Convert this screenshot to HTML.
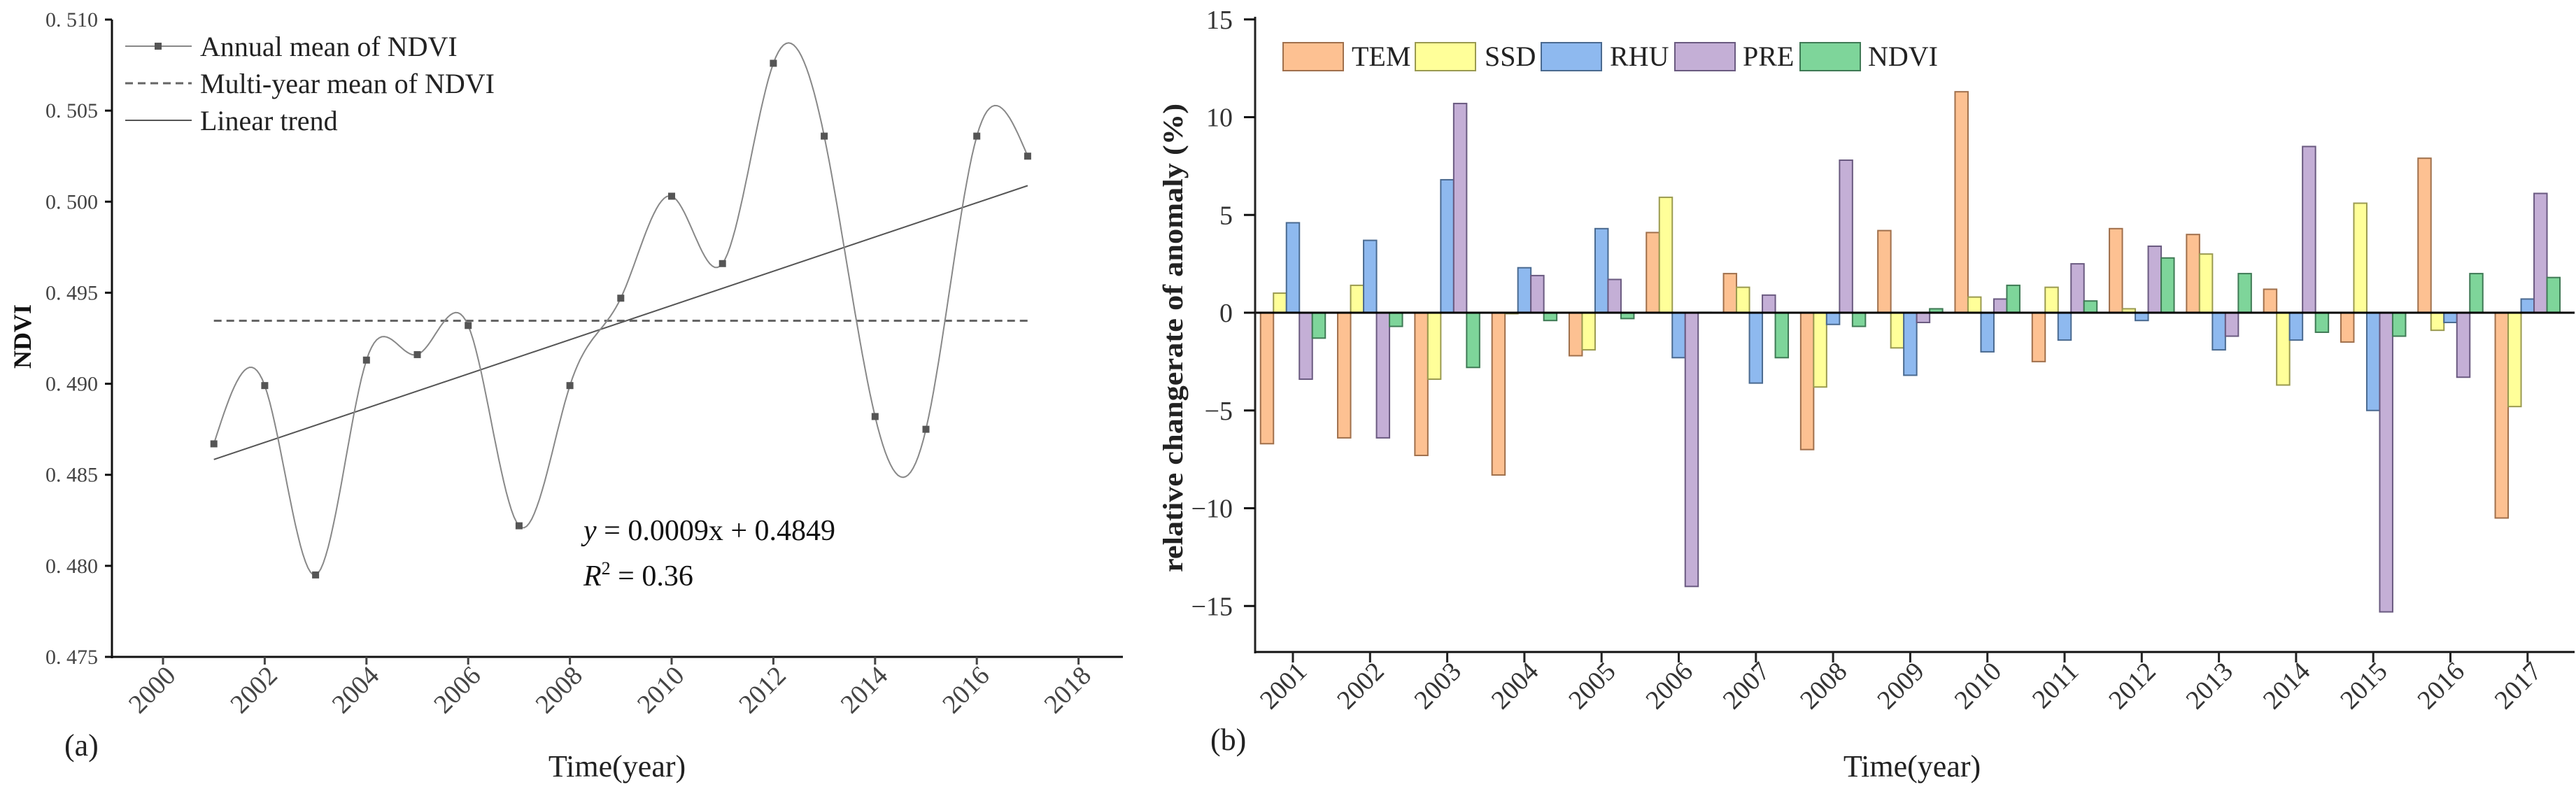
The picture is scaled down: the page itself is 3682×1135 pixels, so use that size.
<!DOCTYPE html>
<html><head><meta charset="utf-8"><style>
html,body{margin:0;padding:0;background:#fff;}
svg{display:block;font-family:"Liberation Serif",serif;}
</style></head><body>
<svg id="fig" width="3682" height="1135" viewBox="0 0 3682 1135" xmlns="http://www.w3.org/2000/svg">
<g id="chartA"></g>
<g id="chartB"></g>
</svg>
<script>
// ---- Chart (a) data ----
const yearsA = [2001,2002,2003,2004,2005,2006,2007,2008,2009,2010,2011,2012,2013,2014,2015,2016,2017];
const ndviValues = [0.4867,0.4899,0.4795,0.4913,0.4916,0.4932,0.4822,0.4899,0.4947,0.5003,0.4966,0.5076,0.5036,0.4882,0.4875,0.5036,0.5025];
const ndviMean = [0.49346];
const trendCoef = [0.00094, 0.4849];
const xTicksA = [2000,2002,2004,2006,2008,2010,2012,2014,2016,2018];
const yTicksA = [0.475,0.480,0.485,0.490,0.495,0.500,0.505,0.510];
const yTickLabelsA = ["0. 475","0. 480","0. 485","0. 490","0. 495","0. 500","0. 505","0. 510"];
// ---- Chart (b) data ----
const yearsB = [2001,2002,2003,2004,2005,2006,2007,2008,2009,2010,2011,2012,2013,2014,2015,2016,2017];
const seriesNames = ["TEM","SSD","RHU","PRE","NDVI"];
const temValues = [-6.7,-6.4,-7.3,-8.3,-2.2,4.1,2.0,-7.0,4.2,11.3,-2.5,4.3,4.0,1.2,-1.5,7.9,-10.5];
const ssdValues = [1.0,1.4,-3.4,-0.05,-1.9,5.9,1.3,-3.8,-1.8,0.8,1.3,0.2,3.0,-3.7,5.6,-0.9,-4.8];
const rhuValues = [4.6,3.7,6.8,2.3,4.3,-2.3,-3.6,-0.6,-3.2,-2.0,-1.4,-0.4,-1.9,-1.4,-5.0,-0.5,0.7];
const preValues = [-3.4,-6.4,10.7,1.9,1.7,-14.0,0.9,7.8,-0.5,0.7,2.5,3.4,-1.2,8.5,-15.3,-3.3,6.1];
const ndviAnom = [-1.3,-0.7,-2.8,-0.4,-0.3,0.02,-2.3,-0.7,0.2,1.4,0.6,2.8,2.0,-1.0,-1.2,2.0,1.8];
const yTicksB = [-15,-10,-5,0,5,10,15];
const yTickLabelsB = ["\u221215","\u221210","\u22125","0","5","10","15"];

const NS="http://www.w3.org/2000/svg";
function mk(parent,tag,attrs,text){const e=document.createElementNS(NS,tag);for(const k in attrs)e.setAttribute(k,attrs[k]);if(text!==undefined)e.textContent=text;parent.appendChild(e);return e;}

// ===== Chart A =====
const A=document.getElementById('chartA');
const ax=x=>233+(x-2000)*72.7;
const ay=v=>939-(v-0.475)/0.035*911;
// axes
let e;
e=mk(A,'line',{x1:160,y1:28,x2:160,y2:941,stroke:'#111','stroke-width':3});


e=mk(A,'line',{x1:159,y1:939,x2:1605,y2:939,stroke:'#111','stroke-width':3});


yTicksA.forEach((t,i)=>{
  mk(A,'line',{x1:150,y1:ay(t),x2:160,y2:ay(t),stroke:'#111','stroke-width':3});
  e=mk(A,'text',{x:140,y:ay(t)+10,'text-anchor':'end','font-size':30,fill:'#444'},yTickLabelsA[i]);
  
  
});
xTicksA.forEach(t=>{
  mk(A,'line',{x1:ax(t),y1:939,x2:ax(t),y2:950,stroke:'#444','stroke-width':3});
  e=mk(A,'text',{x:0,y:0,'text-anchor':'end','font-size':38,fill:'#444',transform:`translate(${ax(t)+20},${968}) rotate(-45)`},String(t));
  
  
});
// mean dashed line
e=mk(A,'line',{x1:ax(2001),y1:ay(ndviMean[0]),x2:ax(2017),y2:ay(ndviMean[0]),stroke:'#666','stroke-width':3,'stroke-dasharray':'11 7'});


// trend
const tr=x=>trendCoef[1]+trendCoef[0]*(x-2000);
e=mk(A,'line',{x1:ax(2001),y1:ay(tr(2001)),x2:ax(2017),y2:ay(tr(2017)),stroke:'#555','stroke-width':2});


// natural cubic spline
(function(){
  const n=yearsA.length, xs=yearsA, ys=ndviValues;
  const h=[],al=[],l=[1],mu=[0],z=[0];
  for(let i=0;i<n-1;i++)h.push(xs[i+1]-xs[i]);
  for(let i=1;i<n-1;i++)al[i]=3/h[i]*(ys[i+1]-ys[i])-3/h[i-1]*(ys[i]-ys[i-1]);
  for(let i=1;i<n-1;i++){l[i]=2*(xs[i+1]-xs[i-1])-h[i-1]*mu[i-1];mu[i]=h[i]/l[i];z[i]=(al[i]-h[i-1]*z[i-1])/l[i];}
  const c=new Array(n).fill(0),b=[],d=[];
  for(let j=n-2;j>=0;j--){c[j]=(j<n-2||true)?(z[j]||0)-mu[j]*c[j+1]:0;b[j]=(ys[j+1]-ys[j])/h[j]-h[j]*(c[j+1]+2*c[j])/3;d[j]=(c[j+1]-c[j])/(3*h[j]);}
  c[0]=0;
  // recompute with c[0]=0 boundary properly
  for(let j=n-2;j>=0;j--){b[j]=(ys[j+1]-ys[j])/h[j]-h[j]*(c[j+1]+2*c[j])/3;d[j]=(c[j+1]-c[j])/(3*h[j]);}
  let dstr='';
  for(let j=0;j<n-1;j++){for(let k=0;k<=20;k++){const t=k/20*h[j];const v=ys[j]+b[j]*t+c[j]*t*t+d[j]*t*t*t;const X=ax(xs[j]+t),Y=ay(v);dstr+=(dstr?'L':'M')+X.toFixed(1)+','+Y.toFixed(1);}}
  e=mk(A,'path',{d:dstr,fill:'none',stroke:'#888','stroke-width':2});
  
  
})();
yearsA.forEach((yr,i)=>{
  e=mk(A,'rect',{x:ax(yr)-5,y:ay(ndviValues[i])-5,width:10,height:10,fill:'#555'});
  
  
});
// legend A
const lgA=mk(A,'g',{});


mk(lgA,'line',{x1:179,y1:66,x2:274,y2:66,stroke:'#888','stroke-width':2});
mk(lgA,'rect',{x:221,y:61,width:10,height:10,fill:'#555'});
mk(lgA,'text',{x:286,y:80,'font-size':40,fill:'#222'},'Annual mean of NDVI');
mk(lgA,'line',{x1:179,y1:119,x2:274,y2:119,stroke:'#666','stroke-width':3,'stroke-dasharray':'11 7'});
mk(lgA,'text',{x:286,y:133,'font-size':40,fill:'#222'},'Multi-year mean of NDVI');
mk(lgA,'line',{x1:179,y1:172,x2:274,y2:172,stroke:'#555','stroke-width':2});
mk(lgA,'text',{x:286,y:186,'font-size':40,fill:'#222'},'Linear trend');
// equation
e=mk(A,'text',{x:834,y:772,'font-size':42,fill:'#111'});


e.innerHTML='<tspan font-style="italic">y</tspan> = 0.0009x + 0.4849';
e=mk(A,'text',{x:834,y:837,'font-size':42,fill:'#111'});


e.innerHTML='<tspan font-style="italic">R</tspan><tspan font-size="26" dy="-16">2</tspan><tspan dy="16"> = 0.36</tspan>';
e=mk(A,'text',{x:0,y:0,'font-size':36,'font-weight':'bold','text-anchor':'middle',fill:'#111',transform:'translate(44,481) rotate(-90)'},'NDVI');


e=mk(A,'text',{x:882,y:1110,'font-size':44,'text-anchor':'middle',fill:'#222'},'Time(year)');


e=mk(A,'text',{x:92,y:1080,'font-size':44,fill:'#222'},'(a)');



// ===== Chart B =====
const B=document.getElementById('chartB');
const bx=yr=>1848+(yr-2001)*110.3;
const by=v=>447-v*27.95;
const fills=['#FDC192','#FFFF99','#8EB9EF','#C4AFD6','#7ED59A'];
const strokes=['#a0704c','#9a9a50','#4a6a90','#6a5a80','#3f7a55'];
const allSeries=[temValues,ssdValues,rhuValues,preValues,ndviAnom];
const bw=18.5;
allSeries.forEach((vals,s)=>{
  vals.forEach((v,i)=>{
    const x=bx(yearsB[i])+(s-2.5)*bw;
    const y0=by(0),y1=by(v);
    e=mk(B,'rect',{x:x,y:Math.min(y0,y1),width:bw,height:Math.max(Math.abs(y1-y0),1),fill:fills[s],stroke:strokes[s],'stroke-width':2});
    
    
  });
});
e=mk(B,'line',{x1:1778,y1:by(0),x2:3680,y2:by(0),stroke:'#000','stroke-width':3});


e=mk(B,'line',{x1:1794,y1:24,x2:1794,y2:934,stroke:'#222','stroke-width':3});


e=mk(B,'line',{x1:1793,y1:932,x2:3680,y2:932,stroke:'#111','stroke-width':3});


yTicksB.forEach((t,i)=>{
  mk(B,'line',{x1:1778,y1:by(t),x2:1794,y2:by(t),stroke:'#111','stroke-width':3});
  e=mk(B,'text',{x:1762,y:by(t)+13,'text-anchor':'end','font-size':38,fill:'#333'},yTickLabelsB[i]);
  
  
});
yearsB.forEach(yr=>{
  mk(B,'line',{x1:bx(yr),y1:932,x2:bx(yr),y2:947,stroke:'#222','stroke-width':3});
  e=mk(B,'text',{x:0,y:0,'text-anchor':'end','font-size':38,fill:'#333',transform:`translate(${bx(yr)+22},${962}) rotate(-45)`},String(yr));
  
  
});
// legend B
const lgB=mk(B,'g',{});


const swX=[1834,2023,2203,2394,2573], txX=[1932,2122,2301,2491,2670];
seriesNames.forEach((n,s)=>{
  mk(lgB,'rect',{x:swX[s],y:61,width:86,height:40,fill:fills[s],stroke:strokes[s],'stroke-width':2});
  mk(lgB,'text',{x:txX[s],y:94,'font-size':40,fill:'#222'},n);
});
e=mk(B,'text',{x:0,y:0,'font-size':40,'text-anchor':'middle',fill:'#222','font-weight':'bold',textLength:670,lengthAdjust:'spacingAndGlyphs',transform:'translate(1690,483) rotate(-90)'},'relative changerate of anomaly (%)');


e=mk(B,'text',{x:2733,y:1110,'font-size':44,'text-anchor':'middle',fill:'#222'},'Time(year)');


e=mk(B,'text',{x:1730,y:1072,'font-size':44,fill:'#222'},'(b)');


</script>
</body></html>
